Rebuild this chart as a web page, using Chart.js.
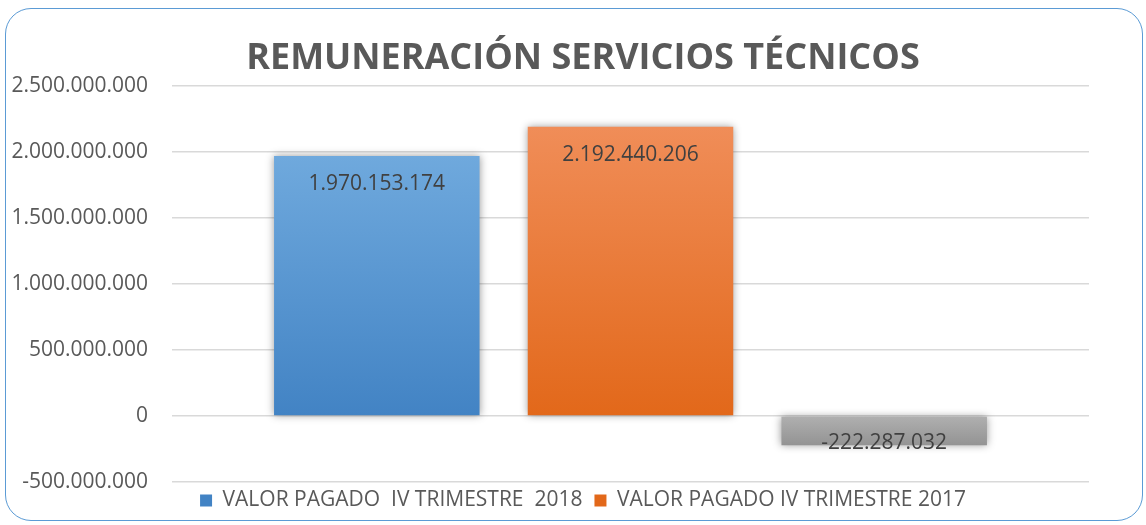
<!DOCTYPE html>
<html>
<head>
<meta charset="utf-8">
<script src="https://cdn.jsdelivr.net/npm/chart.js@4/dist/chart.umd.min.js"></script>
<style>
    html, body { margin: 0; padding: 0; background: #fff; }
    #wrap { position: relative; width: 1146px; height: 525px; }
    #frame {
        position: absolute; left: 5px; top: 8px; width: 1138px; height: 513px;
        border: 1.5px solid #5b9bd5; border-radius: 26px; box-sizing: border-box;
    }
    canvas { position: absolute; left: 0; top: 0; }
</style>
</head>
<body>
<div id="wrap">
    <div id="frame"></div>
    <canvas id="chart" width="1146" height="525"></canvas>
</div>
<script>
// data
const categories = [''];
const seriesLabels = ['VALOR PAGADO  IV TRIMESTRE  2018', 'VALOR PAGADO IV TRIMESTRE 2017', 'DIFERENCIA'];
const valores2018 = [1970153174];
const valores2017 = [2192440206];
const diferencia = [-222287032];
const yMin = -500000000;
const yMax = 2500000000;
const yStep = 500000000;

// colores top -> bottom for each bar gradient
const gradientColors = [
    ['#6fa9dd', '#4283c4'],
    ['#f08d58', '#e2681a'],
    ['#b0b0b0', '#939393']
];

function formatNumber(v) {
    const neg = v < 0;
    const s = Math.abs(Math.round(v)).toString().replace(/\B(?=(\d{3})+(?!\d))/g, '.');
    return (neg ? '-' : '') + s;
}

function barGradient(index) {
    return (context) => {
        const chart = context.chart;
        if (!chart.chartArea) return gradientColors[index][1];
        const y = chart.scales.y;
        const v = context.raw;
        const top = y.getPixelForValue(Math.max(v, 0));
        const bottom = y.getPixelForValue(Math.min(v, 0));
        const g = chart.ctx.createLinearGradient(0, top, 0, bottom);
        g.addColorStop(0, gradientColors[index][0]);
        g.addColorStop(1, gradientColors[index][1]);
        return g;
    };
}

// title and legend sit a bit right of the canvas centre in the original
const shiftBlocks = {
    id: 'shiftBlocks',
    afterLayout(chart) {
        [chart.titleBlock, chart.legend].forEach(box => {
            if (!box) return;
            box.left += 10;
            box.right += 10;
        });
        if (chart.legend) {
            chart.legend.top -= 4;
            chart.legend.bottom -= 4;
        }
    }
};

// soft shadow round the bars
const barShadow = {
    id: 'barShadow',
    beforeDatasetDraw(chart) {
        const ctx = chart.ctx;
        ctx.save();
        ctx.shadowColor = 'rgba(0,0,0,0.4)';
        ctx.shadowBlur = 8;
        ctx.shadowOffsetX = 0;
        ctx.shadowOffsetY = 0;
    },
    afterDatasetDraw(chart) {
        chart.ctx.restore();
    }
};

// value labels inside the bar end
const valueLabels = {
    id: 'valueLabels',
    afterDatasetsDraw(chart) {
        const ctx = chart.ctx;
        ctx.save();
        ctx.font = '21px "Open Sans", sans-serif';
        ctx.fillStyle = '#404040';
        ctx.textAlign = 'center';
        ctx.textBaseline = 'middle';
        chart.data.datasets.forEach((ds, i) => {
            const meta = chart.getDatasetMeta(i);
            meta.data.forEach((bar, j) => {
                const v = ds.data[j];
                const y = v >= 0 ? bar.y + 28 : bar.y - 2;
                ctx.fillText(formatNumber(v), bar.x, y);
            });
        });
        ctx.restore();
    }
};

const ctx = document.getElementById('chart').getContext('2d');
new Chart(ctx, {
    type: 'bar',
    data: {
        labels: categories,
        datasets: [
            { label: seriesLabels[0], data: valores2018, backgroundColor: barGradient(0) },
            { label: seriesLabels[1], data: valores2017, backgroundColor: barGradient(1) },
            { label: seriesLabels[2], data: diferencia, backgroundColor: barGradient(2) }
        ]
    },
    options: {
        responsive: false,
        animation: false,
        layout: { padding: 0 },
        datasets: {
            bar: { categoryPercentage: 0.83, barPercentage: 0.81 }
        },
        plugins: {
            title: {
                display: true,
                text: 'REMUNERACIÓN SERVICIOS TÉCNICOS',
                color: '#595959',
                font: { family: '"Open Sans", sans-serif', size: 36, weight: 'bold' },
                padding: { top: 37, bottom: 6 }
            },
            legend: {
                position: 'bottom',
                labels: {
                    color: '#595959',
                    font: { family: '"Open Sans", sans-serif', size: 21 },
                    boxWidth: 12,
                    boxHeight: 12,
                    padding: 12,
                    filter: (item) => item.datasetIndex < 2,
                    generateLabels: (chart) => chart.data.datasets.map((ds, i) => ({
                        text: ds.label,
                        fillStyle: gradientColors[i][1],
                        strokeStyle: gradientColors[i][1],
                        lineWidth: 0,
                        fontColor: '#595959',
                        datasetIndex: i
                    }))
                }
            },
            tooltip: { enabled: false }
        },
        scales: {
            x: { display: false },
            y: {
                min: yMin,
                max: yMax,
                ticks: {
                    stepSize: yStep,
                    padding: 24,
                    color: '#595959',
                    font: { family: '"Open Sans", sans-serif', size: 21 },
                    callback: (v) => formatNumber(v)
                },
                grid: { color: '#d9d9d9', lineWidth: 1.5, drawTicks: false },
                border: { display: false },
                afterFit: (scale) => { scale.width = 172; }
            },
            // empty right axis, keeps the plot clear of the right edge
            yRight: {
                position: 'right',
                min: yMin,
                max: yMax,
                ticks: { display: false },
                grid: { display: false },
                border: { display: false },
                afterFit: (scale) => { scale.width = 57; }
            }
        }
    },
    plugins: [shiftBlocks, barShadow, valueLabels]
});
</script>
</body>
</html>
